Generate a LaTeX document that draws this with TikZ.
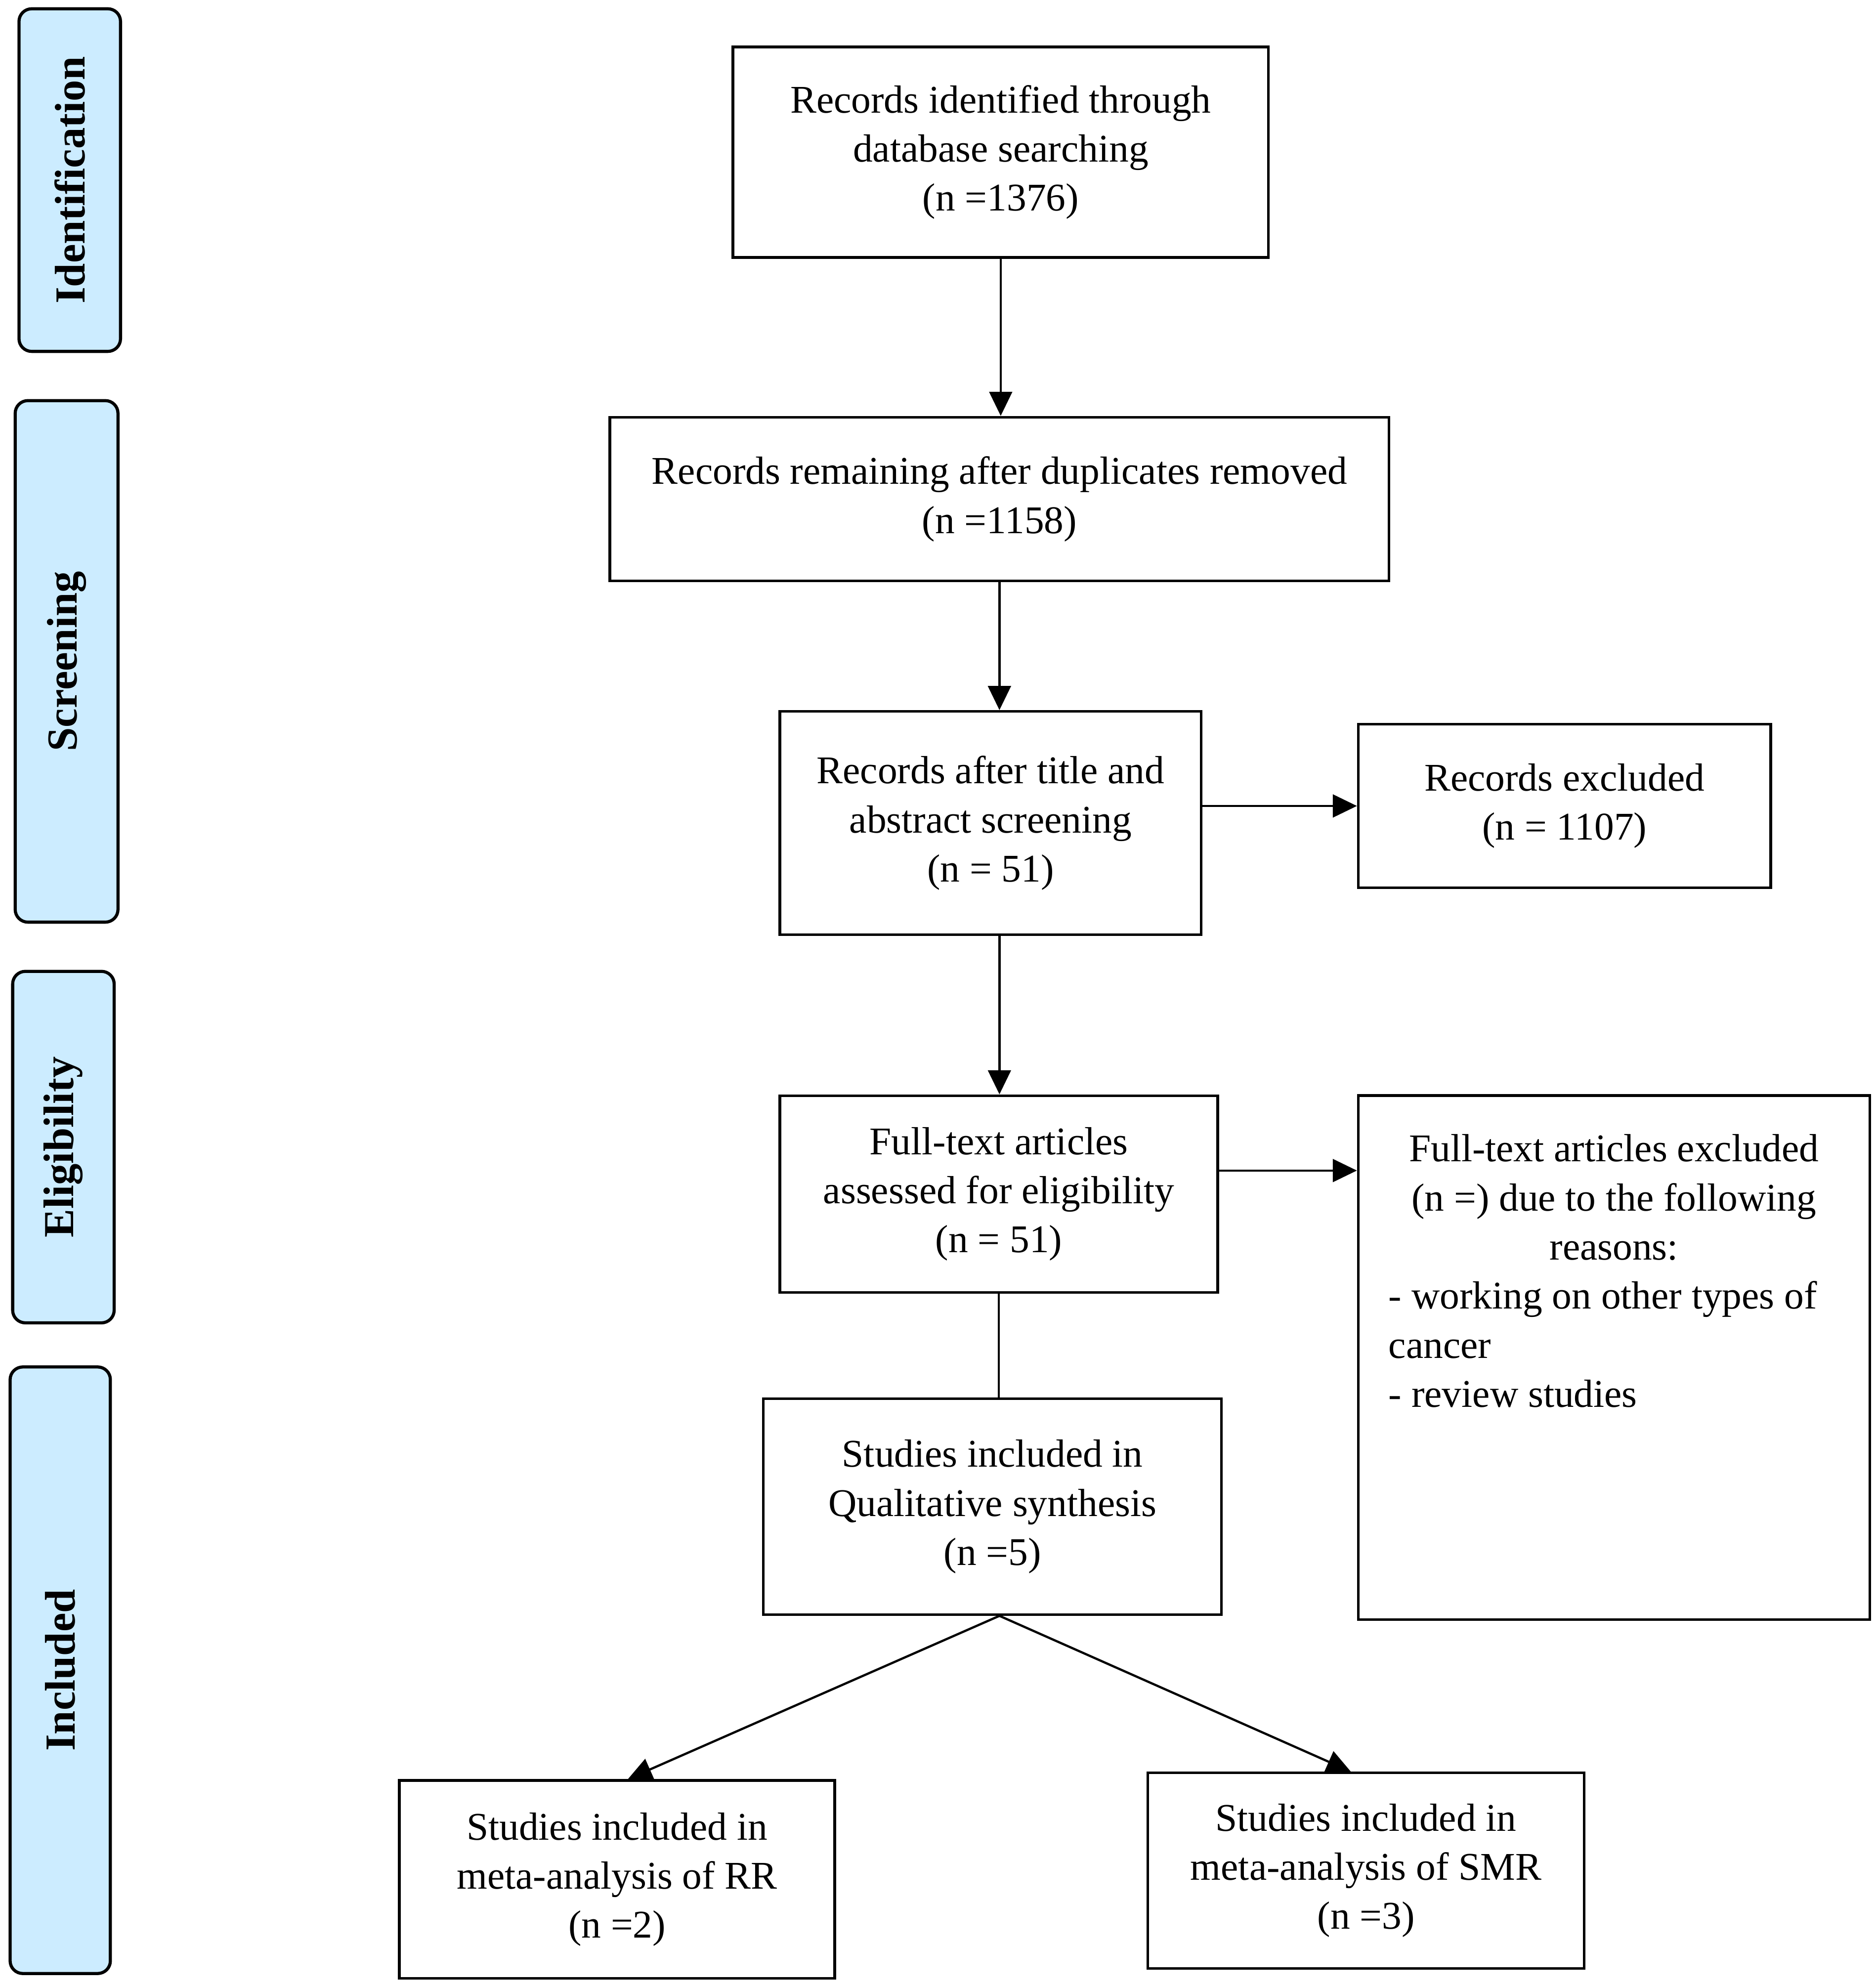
\documentclass[tikz,border=0pt]{standalone}
\usepackage{fontspec}
\setmainfont{Liberation Serif}
\usetikzlibrary{arrows.meta}
\definecolor{sidefill}{RGB}{204,236,255}
\newcommand{\centline}[1]{\makebox[3.55cm][c]{#1}}
\begin{document}
\begin{tikzpicture}[x=0.01cm,y=-0.01cm,
  box/.style={draw, line width=0.6pt, inner sep=0pt, align=center, font=\fontsize{8.8}{11}\selectfont},
  side/.style={draw, line width=0.7pt, fill=sidefill, rounded corners=0.1cm, inner sep=0pt, rotate=90, font=\bfseries\fontsize{9.6}{11}\selectfont},
  arr/.style={line width=0.5pt, -{Triangle[length=0.19cm,width=0.18cm]}},
  link/.style={line width=0.45pt}]
\useasboundingbox (0,0) rectangle (1479,1566);
% stage labels
\node[side, minimum width=2.70cm, minimum height=0.80cm] (s1) at (55,142) {Identification};
\node[side, minimum width=4.11cm, minimum height=0.81cm] (s2) at (52.5,521.5) {Screening};
\node[side, minimum width=2.77cm, minimum height=0.80cm] (s3) at (50,904.5) {Eligibility};
\node[side, minimum width=4.78cm, minimum height=0.79cm] (s4) at (47.5,1317) {Included};
% main boxes
\node[box, minimum width=4.22cm, minimum height=1.66cm] (b1) at (789,120) {Records identified through\\database searching\\(n =1376)};
\node[box, minimum width=6.14cm, minimum height=1.29cm] (b2) at (788,393.5) {Records remaining after duplicates removed\\(n =1158)};
\node[box, minimum width=3.32cm, minimum height=1.76cm] (b3) at (781,649) {Records after title and\\abstract screening\\(n = 51)};
\node[box, minimum width=3.25cm, minimum height=1.29cm] (e1) at (1233.5,635.5) {Records excluded\\(n = 1107)};
\node[box, minimum width=3.45cm, minimum height=1.55cm] (b4) at (787.5,941.5) {Full-text articles\\assessed for eligibility\\(n = 51)};
\node[box, minimum width=4.03cm, minimum height=4.13cm] (e2) at (1272.5,1070.5) {};
\node[anchor=north, inner sep=0pt, align=left, font=\fontsize{8.8}{11}\selectfont] (e2t) at ([yshift=-0.31cm]e2.north)
  {\centline{Full-text articles excluded}\\\centline{(n =) due to the following}\\\centline{reasons:}\\- working on other types of\\cancer\\- review studies};
\node[box, minimum width=3.61cm, minimum height=1.70cm] (b5) at (782.5,1188) {Studies included in\\Qualitative synthesis\\(n =5)};
\node[box, minimum width=3.43cm, minimum height=1.56cm] (b6) at (486.5,1482) {Studies included in\\meta-analysis of RR\\(n =2)};
\node[box, minimum width=3.44cm, minimum height=1.54cm] (b7) at (1077,1475) {Studies included in\\meta-analysis of SMR\\(n =3)};
% connectors
\draw[arr] (b1.south) -- (b1.south |- b2.north);
\draw[arr] (b2.south) -- (b2.south |- b3.north);
\draw[arr] (b2.south |- b3.south) -- (b2.south |- b4.north);
\draw[arr] (b3.east |- e1.west) -- (e1.west);
\draw[arr] ([yshift=0.185cm]b4.east) -- ([yshift=0.185cm]b4.east -| e2.west);
\draw[link] (b4.south) -- (b4.south |- b5.north);
\coordinate (fork) at (b2.south |- b5.south);
\draw[arr] (fork) -- ([xshift=0.085cm]b6.north);
\draw[arr] (fork) -- ([xshift=-0.12cm]b7.north);
\end{tikzpicture}
\end{document}
